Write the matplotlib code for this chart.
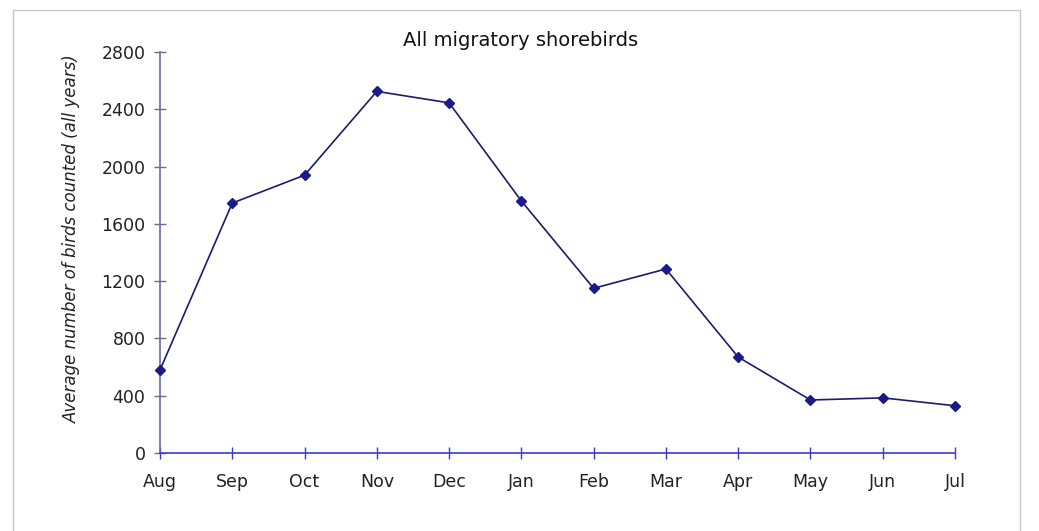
import matplotlib
matplotlib.use("Agg")
import matplotlib.pyplot as plt
from matplotlib.patches import Rectangle

months = ["Aug", "Sep", "Oct", "Nov", "Dec", "Jan", "Feb", "Mar", "Apr", "May", "Jun", "Jul"]
counts = [580, 1745, 1940, 2525, 2445, 1760, 1150, 1285, 670, 370, 385, 330]
yticks = [0, 400, 800, 1200, 1600, 2000, 2400, 2800]

plt.rcParams['font.family'] = ['DejaVu Sans']

fig = plt.figure(figsize=(10.39, 5.31), dpi=100)
fig.patch.set_facecolor('white')

# faint page frame like the screenshot
fig.patches.append(Rectangle((13 / 1039, -0.01), (1020 - 13) / 1039, 1 - 10 / 531 + 0.01,
                             transform=fig.transFigure, fill=False,
                             edgecolor='#c8c8c8', linewidth=1))

ax = fig.add_axes([160 / 1039, (531 - 453) / 531, (955 - 160) / 1039, (453 - 52) / 531])
x = list(range(len(months)))
ax.plot(x, counts, color='#1c1c6a', linewidth=1.2, marker='D', markersize=5,
        markerfacecolor='#1a1a8a', markeredgecolor='#1a1a8a', clip_on=False, zorder=3)

ax.set_xlim(0, len(months) - 1)
ax.set_ylim(0, 2800)
ax.set_xticks(x)
ax.set_xticklabels(months)
ax.set_yticks(yticks)

for s in ['top', 'right']:
    ax.spines[s].set_visible(False)
ax.spines['left'].set_color('#6a6aa8')
ax.spines['bottom'].set_color('#3a3ad0')
ax.spines['left'].set_linewidth(1.2)
ax.spines['bottom'].set_linewidth(1.2)
ax.tick_params(axis='y', direction='inout', length=9, width=1, color='#6a6aa8',
               labelsize=12.5, pad=6, labelcolor='#222222')
ax.tick_params(axis='x', direction='inout', length=9, width=1, color='#3a3ad0',
               labelsize=12.5, pad=10, labelcolor='#222222')

ax.set_ylabel("Average number of birds counted (all years)", fontsize=12,
              style='italic', color='#222222')
ax.yaxis.set_label_coords(-0.099, 0.535)
fig.text(521 / 1039, 1 - 40 / 531, "All migratory shorebirds", fontsize=14,
         color='#111111', ha='center', va='center')

fig.savefig("out.png", dpi=100, facecolor='white')
